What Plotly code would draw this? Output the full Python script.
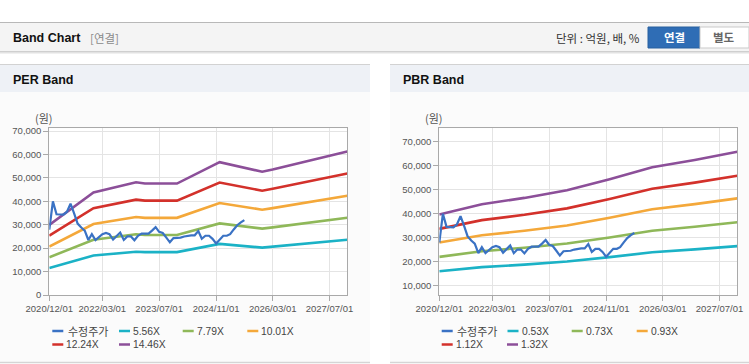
import plotly.graph_objects as go
import pandas as pd

W, H = 749, 364

# ---------------- data ----------------
price_dates = pd.date_range("2020-12-01", periods=56, freq="MS")
price = [27900, 40000, 34500, 34500, 34300, 35500, 39000, 35000, 30500, 28800, 27500, 23500,
         26000, 23500, 25000, 26000, 26500, 26000, 23700, 25000, 26700, 23500, 25000, 25000,
         23400, 25300, 26200, 26200, 26200, 27500, 29000, 27000, 26500, 24500, 22500, 24300,
         24300, 24500, 25000, 25300, 25500, 25500, 27300, 24000, 25300, 25300, 24000, 22000,
         23500, 25300, 25300, 26000, 28000, 29800, 31000, 32000]

per_dates = ["2020-12-01", "2021-12-15", "2022-12-15", "2023-03-01", "2023-12-01",
             "2024-12-01", "2025-12-01", "2026-03-01", "2027-12-01"]
per_5_56 = [11509, 16847, 18504, 18304, 18304, 21823, 20238, 20611, 23563]
per_7_79 = [16125, 23604, 25925, 25645, 25645, 30576, 28356, 28878, 33014]
per_10_01 = [20721, 30330, 33313, 32953, 32953, 39289, 36436, 37107, 42422]
per_12_24 = [25337, 37087, 40735, 40294, 40294, 48042, 44554, 45374, 51873]
per_14_46 = [29932, 43814, 48123, 47602, 47602, 56756, 52634, 53603, 61282]

pbr_dates = ["2020-12-01", "2021-12-01", "2022-12-01", "2023-12-01", "2024-12-01",
             "2025-12-01", "2026-12-01", "2027-12-01"]
pbr_0_53 = [15927, 17649, 18709, 19981, 21836, 23850, 25069, 26447]
pbr_0_73 = [21937, 24309, 25769, 27521, 30076, 32850, 34529, 36427]
pbr_0_93 = [27947, 30969, 32829, 35061, 38316, 41850, 43989, 46407]
pbr_1_12 = [33656, 37296, 39536, 42224, 46144, 50400, 52976, 55888]
pbr_1_32 = [39666, 43956, 46596, 49764, 54384, 59400, 62436, 65868]

per_names = ["수정주가", "5.56X", "7.79X", "10.01X", "12.24X", "14.46X"]
pbr_names = ["수정주가", "0.53X", "0.73X", "0.93X", "1.12X", "1.32X"]

x_tick_vals = ["2020-12-01", "2022-03-01", "2023-07-01", "2024-11-01", "2026-03-01", "2027-07-01"]
x_tick_text = ["2020/12/01", "2022/03/01", "2023/07/01", "2024/11/01", "2026/03/01", "2027/07/01"]
per_y_ticks = [0, 10000, 20000, 30000, 40000, 50000, 60000, 70000]
pbr_y_ticks = [10000, 20000, 30000, 40000, 50000, 60000, 70000]

colors = ["#3a72c4", "#1bb2c6", "#8fb859", "#f4a83a", "#d3312b", "#8c4f99"]

# ---------------- helpers ----------------
def rx(x):
    return x / W

def ry(y):
    return 1 - y / H

FONT = "Liberation Sans, Noto Sans CJK KR, sans-serif"
KFONT = "Noto Sans CJK KR, Liberation Sans, sans-serif"

fig = go.Figure()

per_bands = [per_5_56, per_7_79, per_10_01, per_12_24, per_14_46]
pbr_bands = [pbr_0_53, pbr_0_73, pbr_0_93, pbr_1_12, pbr_1_32]

for i, band in enumerate(per_bands):
    fig.add_trace(go.Scatter(x=per_dates, y=band, mode="lines", name=per_names[i + 1],
                             line=dict(color=colors[i + 1], width=2.6),
                             xaxis="x", yaxis="y", showlegend=False))
fig.add_trace(go.Scatter(x=price_dates, y=price, mode="lines", name=per_names[0],
                         line=dict(color=colors[0], width=2.2),
                         xaxis="x", yaxis="y", showlegend=False))

for i, band in enumerate(pbr_bands):
    fig.add_trace(go.Scatter(x=pbr_dates, y=band, mode="lines", name=pbr_names[i + 1],
                             line=dict(color=colors[i + 1], width=2.6),
                             xaxis="x2", yaxis="y2", showlegend=False))
fig.add_trace(go.Scatter(x=price_dates, y=price, mode="lines", name=pbr_names[0],
                         line=dict(color=colors[0], width=2.2),
                         xaxis="x2", yaxis="y2", showlegend=False))

plot_top, plot_bot = 128.3, 295.0
L1, R1 = 49.3, 347.3
L2, R2 = 439.3, 737.3

tickfont = dict(family=FONT, size=9.5, color="#555555")
axis_common = dict(showgrid=True, gridcolor="#e4e4e4", gridwidth=1, showline=True,
                   linecolor="#a9a9a9", linewidth=1, mirror=True, ticks="outside",
                   ticklen=5, tickcolor="#a9a9a9", tickfont=tickfont, zeroline=False,
                   fixedrange=True, automargin=False)

fig.update_layout(
    width=W, height=H, autosize=False,
    margin=dict(l=0, r=0, t=0, b=0, pad=0),
    paper_bgcolor="#ffffff", plot_bgcolor="#ffffff",
    showlegend=False,
    xaxis=dict(domain=[rx(L1), rx(R1)], anchor="y", type="date",
               range=["2020-12-01", "2027-12-01"], tickmode="array",
               tickvals=x_tick_vals, ticktext=x_tick_text, **axis_common),
    yaxis=dict(domain=[ry(plot_bot), ry(plot_top)], anchor="x", range=[0, 71200],
               tickmode="array", tickvals=per_y_ticks, tickformat=",", **axis_common),
    xaxis2=dict(domain=[rx(L2), rx(R2)], anchor="y2", type="date",
                range=["2020-12-01", "2027-12-01"], tickmode="array",
                tickvals=x_tick_vals, ticktext=x_tick_text, **axis_common),
    yaxis2=dict(domain=[ry(plot_bot), ry(plot_top)], anchor="x2", range=[6000, 75700],
                tickmode="array", tickvals=pbr_y_ticks, tickformat=",", **axis_common),
)

shapes = []

def rect(x0, y0, x1, y1, fill, line=None, lw=0):
    shapes.append(dict(type="rect", xref="paper", yref="paper", layer="below",
                       x0=rx(x0), x1=rx(x1), y0=ry(y1), y1=ry(y0), fillcolor=fill,
                       line=dict(color=line or fill, width=lw)))

def hline(x0, x1, y, color, width=1, layer="below"):
    shapes.append(dict(type="line", xref="paper", yref="paper", layer=layer,
                       x0=rx(x0), x1=rx(x1), y0=ry(y), y1=ry(y),
                       line=dict(color=color, width=width)))

# header bar
rect(0, 22, W, 51, "#f4f4f4")
hline(0, W, 22.5, "#b8b8b8", 1.2)
hline(0, W, 51.5, "#cfcfcf", 1)
hline(0, W, 52.5, "#e2e2e2", 1)
hline(0, W, 53.5, "#f0f0f0", 1)

# buttons
rect(648, 27, 700, 48, "#2f6db5", "#28609f", 1)
rect(700, 27, 749, 48, "#ffffff", "#c9c9c9", 1)

# panels
for (a, b) in [(0, 370), (390, W)]:
    rect(a, 64, b, 92, "#eef1f6")
    rect(a, 92, b, 362, "#fbfbfb")
    hline(a, b, 64.5, "#d2d2d2", 1.2)
    hline(a, b, 362.5, "#d5d5d5", 1.5)

# plot backgrounds
rect(L1, plot_top, R1, plot_bot, "#ffffff")
rect(L2, plot_top, R2, plot_bot, "#ffffff")

annotations = []

def text(x, y, s, size=12, color="#222222", bold=False, anchor="left", family=FONT):
    if bold:
        s = "<b>" + s + "</b>"
    annotations.append(dict(xref="paper", yref="paper", x=rx(x), y=ry(y), text=s,
                            showarrow=False, xanchor=anchor, yanchor="middle",
                            font=dict(family=family, size=size, color=color)))

text(11, 38, "Band Chart", 12.5, "#111111", bold=True)
text(88, 38.5, "[연결]", 11.5, "#8a8a8a", family=KFONT)
text(642, 38.5, "단위 : 억원, 배, %", 11.5, "#333333", anchor="right", family=KFONT)
text(674, 37.5, "연결", 11.5, "#ffffff", bold=True, anchor="center", family=KFONT)
text(724, 37.5, "별도", 11.5, "#666666", bold=True, anchor="center", family=KFONT)
text(11, 80, "PER Band", 12.5, "#111111", bold=True)
text(401, 80, "PBR Band", 12.5, "#111111", bold=True)
text(44, 118, "(원)", 11, "#555555", anchor="center", family=KFONT)
text(434, 118, "(원)", 11, "#555555", anchor="center", family=KFONT)

# custom legends
def legend(items, xs, ys):
    for (name, col), x, y in zip(items, xs, ys):
        hline(x, x + 11, y, col, 2.5, layer="above")
        if name == "수정주가":
            text(x + 13.5, y, name, 11, "#444444", family=KFONT)
        else:
            text(x + 12, y, name, 10.3, "#444444", family=FONT)

row1, row2 = 331, 344.5
legend(list(zip(per_names, colors)),
       [52.3, 119, 182.7, 247.3, 52.3, 119], [row1, row1, row1, row1, row2, row2])
legend(list(zip(pbr_names, colors)),
       [441.7, 507.5, 571.7, 636.7, 441.7, 507], [row1, row1, row1, row1, row2, row2])

fig.update_layout(shapes=shapes, annotations=annotations)

fig.write_html("out.html", config={"displayModeBar": False},
               post_script="document.body.style.margin='0';document.body.style.overflow='hidden';")
